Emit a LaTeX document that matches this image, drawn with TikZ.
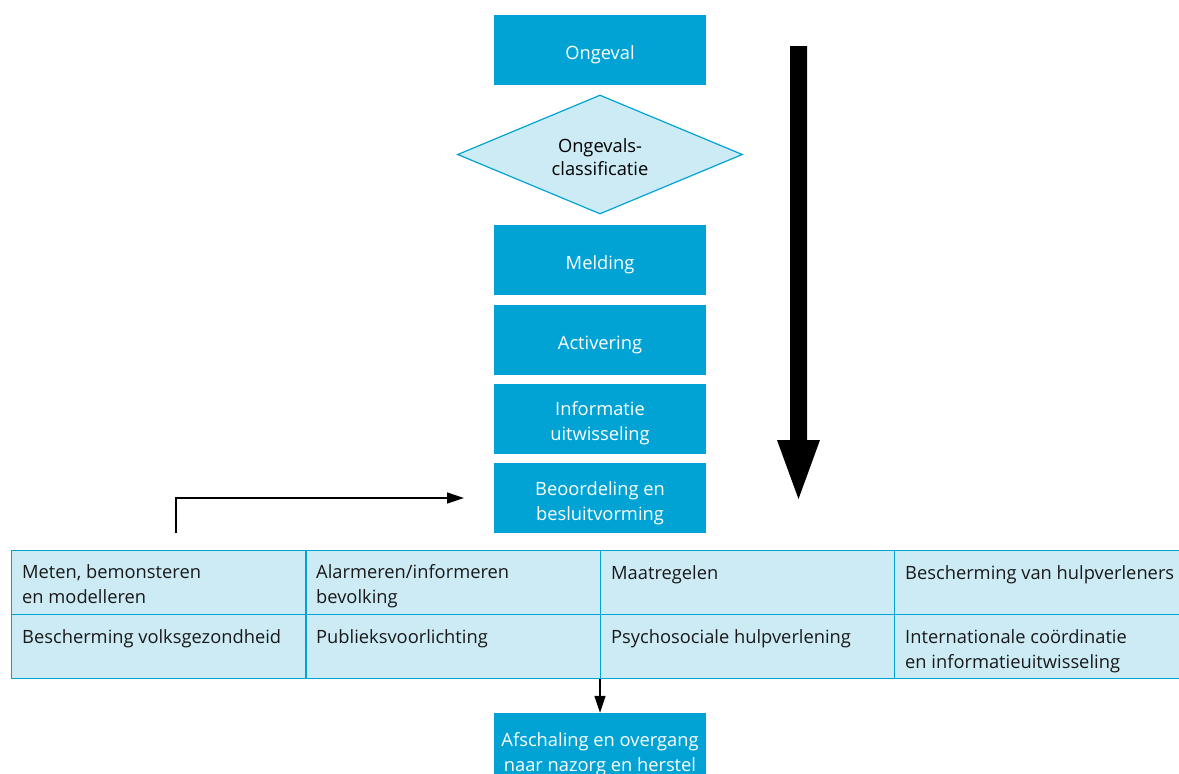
\documentclass[tikz,border=0pt]{standalone}
\usepackage{fontspec}
\setmainfont{Open Sans}
\usetikzlibrary{shapes.geometric,arrows.meta}
\definecolor{rodark}{HTML}{01A3D5}
\definecolor{rolight}{HTML}{CCEBF5}
\newcommand\lowered[2]{\raisebox{-#1}[\height][\depth]{\begin{tabular}{@{}c@{}}#2\end{tabular}}}
\tikzset{
  darkbox/.style={fill=rodark, text=white, minimum width=212pt, minimum height=70pt, inner sep=0pt, align=center, font=\fontsize{18.3}{25}\selectfont},
  cellbox/.style={draw=rodark, line width=1.3pt, fill=rolight, minimum width=294pt, minimum height=64pt, inner sep=0pt, anchor=north west},
  celltext/.style={anchor=base west, inner sep=0pt, align=left, font=\fontsize{18.3}{25}\selectfont, text=black!90},
  thinarrow/.style={line width=1.3pt, -{Triangle[length=17pt,width=11pt]}},
}
\begin{document}
\begin{tikzpicture}[x=1pt,y=-1pt]
\clip (0,0) rectangle (1179,774);
\fill[white] (0,0) rectangle (1179,774);

% vertical flow boxes
\node[darkbox] (ongeval) at (600,50) {\lowered{4pt}{Ongeval}};
\node[diamond, aspect=2.4, draw=rodark, line width=1.2pt, fill=rolight, minimum width=285pt, minimum height=119pt, inner sep=0pt, align=center, font=\fontsize{18.3}{23}\selectfont] (classif) at (600,154.5) {\lowered{5pt}{Ongevals-\\classificatie}};
\node[darkbox] (melding) at (600,260) {\lowered{4pt}{Melding}};
\node[darkbox] (activering) at (600,340) {\lowered{4pt}{Activering}};
\node[darkbox] (info) at (600,419) {\lowered{4pt}{Informatie\\uitwisseling}};
\node[darkbox] (beoordeling) at (600,498) {\lowered{4.5pt}{Beoordeling en\\besluitvorming}};
\node[darkbox] (afschaling) at (600,748) {\lowered{5.5pt}{Afschaling en overgang\\naar nazorg en herstel}};

% table cells
\node[cellbox] (c11) at (11,550) {};
\node[cellbox] (c12) at (306,550) {};
\node[cellbox] (c13) at (600,550) {};
\node[cellbox, minimum width=310pt] (c14) at (894,550) {};
\node[cellbox] (c21) at (11,614) {};
\node[cellbox] (c22) at (306,614) {};
\node[cellbox] (c23) at (600,614) {};
\node[cellbox, minimum width=310pt] (c24) at (894,614) {};

\node[celltext] (t11) at (22,603) {Meten, bemonsteren\\en modelleren};
\node[celltext] (t12) at (316,603) {Alarmeren/informeren\\bevolking};
\node[celltext] (t13) at (611,579) {Maatregelen};
\node[celltext] (t14) at (905,579) {Bescherming van hulpverleners};
\node[celltext] (t21) at (22,643) {Bescherming volksgezondheid};
\node[celltext] (t22) at (316,643) {Publieksvoorlichting};
\node[celltext] (t23) at (611,643) {Psychosociale hulpverlening};
\node[celltext] (t24) at (905,668) {Internationale coördinatie\\en informatieuitwisseling};

% feedback arrow
\coordinate (fbstart) at (176,533);
\coordinate (fbend) at (464,498);
\draw[thinarrow] (fbstart) |- (fbend);

% arrow from table to afschaling
\draw[thinarrow] (c23.south west) -- (afschaling.north);

% big time arrow
\coordinate (bigtip) at (798.5,499);
\fill[black] (790,46) -- (807,46) -- (807,440) -- (820,440) -- (bigtip) -- (777,440) -- (790,440) -- cycle;
\end{tikzpicture}
\end{document}
